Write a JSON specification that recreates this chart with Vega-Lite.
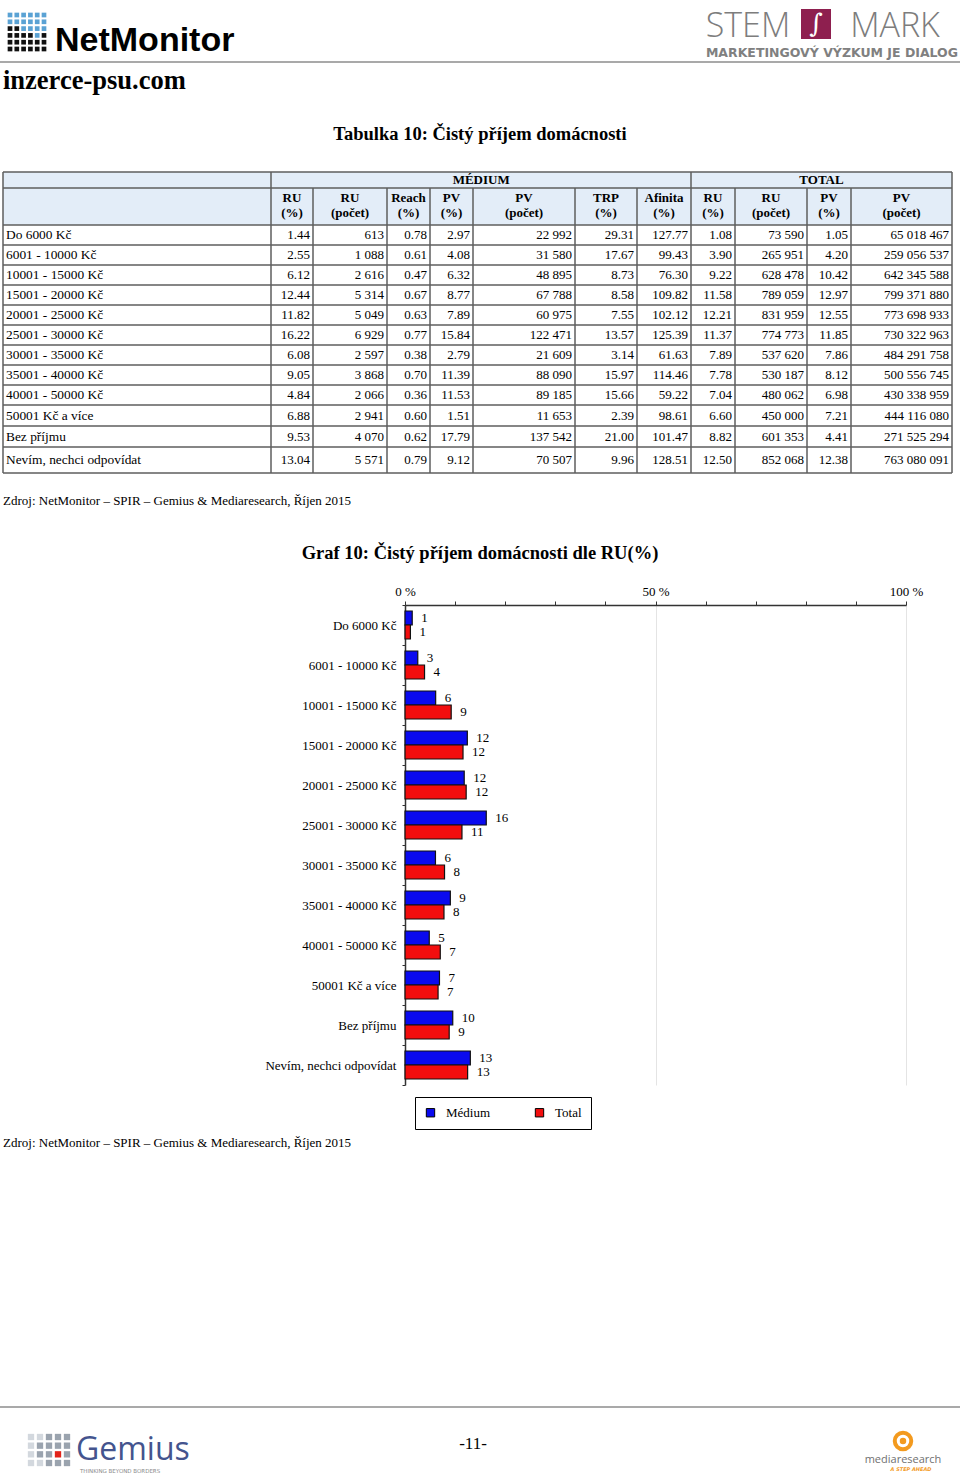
{
  "$schema": "https://vega.github.io/schema/vega-lite/v6.json",
  "width": 960,
  "height": 1478,
  "autosize": "none",
  "padding": 0,
  "background": "white",
  "config": {
    "view": {"stroke": null},
    "text": {"font": "Liberation Serif", "fontSize": 13, "color": "black"}
  },
  "datasets": {
    "income": [
      {"cat": "Do 6000 Kč", "m_ru": 1.44, "m_run": 613, "m_reach": 0.78, "m_pv": 2.97, "m_pvn": 22992, "m_trp": 29.31, "m_afi": 127.77, "t_ru": 1.08, "t_run": 73590, "t_pv": 1.05, "t_pvn": 65018467},
      {"cat": "6001 - 10000 Kč", "m_ru": 2.55, "m_run": 1088, "m_reach": 0.61, "m_pv": 4.08, "m_pvn": 31580, "m_trp": 17.67, "m_afi": 99.43, "t_ru": 3.90, "t_run": 265951, "t_pv": 4.20, "t_pvn": 259056537},
      {"cat": "10001 - 15000 Kč", "m_ru": 6.12, "m_run": 2616, "m_reach": 0.47, "m_pv": 6.32, "m_pvn": 48895, "m_trp": 8.73, "m_afi": 76.30, "t_ru": 9.22, "t_run": 628478, "t_pv": 10.42, "t_pvn": 642345588},
      {"cat": "15001 - 20000 Kč", "m_ru": 12.44, "m_run": 5314, "m_reach": 0.67, "m_pv": 8.77, "m_pvn": 67788, "m_trp": 8.58, "m_afi": 109.82, "t_ru": 11.58, "t_run": 789059, "t_pv": 12.97, "t_pvn": 799371880},
      {"cat": "20001 - 25000 Kč", "m_ru": 11.82, "m_run": 5049, "m_reach": 0.63, "m_pv": 7.89, "m_pvn": 60975, "m_trp": 7.55, "m_afi": 102.12, "t_ru": 12.21, "t_run": 831959, "t_pv": 12.55, "t_pvn": 773698933},
      {"cat": "25001 - 30000 Kč", "m_ru": 16.22, "m_run": 6929, "m_reach": 0.77, "m_pv": 15.84, "m_pvn": 122471, "m_trp": 13.57, "m_afi": 125.39, "t_ru": 11.37, "t_run": 774773, "t_pv": 11.85, "t_pvn": 730322963},
      {"cat": "30001 - 35000 Kč", "m_ru": 6.08, "m_run": 2597, "m_reach": 0.38, "m_pv": 2.79, "m_pvn": 21609, "m_trp": 3.14, "m_afi": 61.63, "t_ru": 7.89, "t_run": 537620, "t_pv": 7.86, "t_pvn": 484291758},
      {"cat": "35001 - 40000 Kč", "m_ru": 9.05, "m_run": 3868, "m_reach": 0.70, "m_pv": 11.39, "m_pvn": 88090, "m_trp": 15.97, "m_afi": 114.46, "t_ru": 7.78, "t_run": 530187, "t_pv": 8.12, "t_pvn": 500556745},
      {"cat": "40001 - 50000 Kč", "m_ru": 4.84, "m_run": 2066, "m_reach": 0.36, "m_pv": 11.53, "m_pvn": 89185, "m_trp": 15.66, "m_afi": 59.22, "t_ru": 7.04, "t_run": 480062, "t_pv": 6.98, "t_pvn": 430338959},
      {"cat": "50001 Kč a více", "m_ru": 6.88, "m_run": 2941, "m_reach": 0.60, "m_pv": 1.51, "m_pvn": 11653, "m_trp": 2.39, "m_afi": 98.61, "t_ru": 6.60, "t_run": 450000, "t_pv": 7.21, "t_pvn": 444116080},
      {"cat": "Bez příjmu", "m_ru": 9.53, "m_run": 4070, "m_reach": 0.62, "m_pv": 17.79, "m_pvn": 137542, "m_trp": 21.00, "m_afi": 101.47, "t_ru": 8.82, "t_run": 601353, "t_pv": 4.41, "t_pvn": 271525294},
      {"cat": "Nevím, nechci odpovídat", "m_ru": 13.04, "m_run": 5571, "m_reach": 0.79, "m_pv": 9.12, "m_pvn": 70507, "m_trp": 9.96, "m_afi": 128.51, "t_ru": 12.50, "t_run": 852068, "t_pv": 12.38, "t_pvn": 763080091}
    ],
    "headers": [
      {"c": 1, "l1": "RU", "l2": "(%)"},
      {"c": 2, "l1": "RU", "l2": "(počet)"},
      {"c": 3, "l1": "Reach", "l2": "(%)"},
      {"c": 4, "l1": "PV", "l2": "(%)"},
      {"c": 5, "l1": "PV", "l2": "(počet)"},
      {"c": 6, "l1": "TRP", "l2": "(%)"},
      {"c": 7, "l1": "Afinita", "l2": "(%)"},
      {"c": 8, "l1": "RU", "l2": "(%)"},
      {"c": 9, "l1": "RU", "l2": "(počet)"},
      {"c": 10, "l1": "PV", "l2": "(%)"},
      {"c": 11, "l1": "PV", "l2": "(počet)"}
    ],
    "hlines": [{"b": 0}, {"b": 1}, {"b": 2}, {"b": 3}, {"b": 4}, {"b": 5}, {"b": 6}, {"b": 7}, {"b": 8}, {"b": 9}, {"b": 10}, {"b": 11}, {"b": 12}, {"b": 13}, {"b": 14}],
    "vfull": [{"b": 0}, {"b": 1}, {"b": 8}, {"b": 12}],
    "vpart": [{"b": 2}, {"b": 3}, {"b": 4}, {"b": 5}, {"b": 6}, {"b": 7}, {"b": 9}, {"b": 10}, {"b": 11}],
    "netgrid": [
      {"gx": 0, "gy": 0, "tone": "b"}, {"gx": 1, "gy": 0, "tone": "b"}, {"gx": 2, "gy": 0, "tone": "b"}, {"gx": 3, "gy": 0, "tone": "b"}, {"gx": 4, "gy": 0, "tone": "b"}, {"gx": 5, "gy": 0, "tone": "b"},
      {"gx": 0, "gy": 1, "tone": "b"}, {"gx": 1, "gy": 1, "tone": "b"}, {"gx": 2, "gy": 1, "tone": "b"}, {"gx": 3, "gy": 1, "tone": "b"}, {"gx": 4, "gy": 1, "tone": "b"}, {"gx": 5, "gy": 1, "tone": "b"},
      {"gx": 0, "gy": 2, "tone": "k"}, {"gx": 1, "gy": 2, "tone": "k"}, {"gx": 2, "gy": 2, "tone": "b"}, {"gx": 3, "gy": 2, "tone": "b"}, {"gx": 4, "gy": 2, "tone": "b"}, {"gx": 5, "gy": 2, "tone": "b"},
      {"gx": 0, "gy": 3, "tone": "k"}, {"gx": 1, "gy": 3, "tone": "k"}, {"gx": 2, "gy": 3, "tone": "k"}, {"gx": 3, "gy": 3, "tone": "k"}, {"gx": 4, "gy": 3, "tone": "b"}, {"gx": 5, "gy": 3, "tone": "k"},
      {"gx": 0, "gy": 4, "tone": "k"}, {"gx": 1, "gy": 4, "tone": "k"}, {"gx": 2, "gy": 4, "tone": "k"}, {"gx": 3, "gy": 4, "tone": "k"}, {"gx": 4, "gy": 4, "tone": "k"}, {"gx": 5, "gy": 4, "tone": "k"},
      {"gx": 0, "gy": 5, "tone": "k"}, {"gx": 1, "gy": 5, "tone": "k"}, {"gx": 2, "gy": 5, "tone": "k"}, {"gx": 3, "gy": 5, "tone": "k"}, {"gx": 4, "gy": 5, "tone": "k"}, {"gx": 5, "gy": 5, "tone": "k"}
    ],
    "gemgrid": [
      {"gx": 0, "gy": 0, "tone": "l"}, {"gx": 1, "gy": 0, "tone": "l"}, {"gx": 2, "gy": 0, "tone": "m"}, {"gx": 3, "gy": 0, "tone": "m"}, {"gx": 4, "gy": 0, "tone": "m"},
      {"gx": 0, "gy": 1, "tone": "l"}, {"gx": 1, "gy": 1, "tone": "m"}, {"gx": 2, "gy": 1, "tone": "m"}, {"gx": 3, "gy": 1, "tone": "m"}, {"gx": 4, "gy": 1, "tone": "m"},
      {"gx": 0, "gy": 2, "tone": "l"}, {"gx": 1, "gy": 2, "tone": "m"}, {"gx": 2, "gy": 2, "tone": "m"}, {"gx": 3, "gy": 2, "tone": "r"}, {"gx": 4, "gy": 2, "tone": "m"},
      {"gx": 0, "gy": 3, "tone": "l"}, {"gx": 1, "gy": 3, "tone": "l"}, {"gx": 2, "gy": 3, "tone": "m"}, {"gx": 3, "gy": 3, "tone": "m"}, {"gx": 4, "gy": 3, "tone": "m"}
    ]
  },
  "layer": [
    {
      "layer": [
        {
          "data": {"values": [{"k": 1}]},
          "mark": {"type": "rect", "fill": "#e3edf8"},
          "encoding": {
            "x": {"datum": 0, "type": "quantitative", "scale": {"domain": [0, 1, 2, 3, 4, 5, 6, 7, 8, 9, 10, 11, 12], "range": [3, 271, 313, 387, 430, 473, 575, 637, 691, 735, 807, 851, 952], "nice": false, "zero": false}, "axis": null},
            "x2": {"datum": 12},
            "y": {"datum": 0, "type": "quantitative", "scale": {"domain": [0, 1, 2, 3, 4, 5, 6, 7, 8, 9, 10, 11, 12, 13, 14], "range": [172, 188, 225, 245, 265, 285, 305, 325, 345, 365, 385, 405, 426, 447, 473], "nice": false, "zero": false}, "axis": null},
            "y2": {"datum": 2}
          }
        },
        {
          "data": {"name": "hlines"},
          "mark": {"type": "rule", "color": "#5e5e5e", "strokeWidth": 1.5},
          "encoding": {
            "x": {"datum": 0, "type": "quantitative", "axis": null},
            "x2": {"datum": 12},
            "y": {"field": "b", "type": "quantitative", "axis": null}
          }
        },
        {
          "data": {"name": "vfull"},
          "mark": {"type": "rule", "color": "#5e5e5e", "strokeWidth": 1.5},
          "encoding": {
            "x": {"field": "b", "type": "quantitative", "axis": null},
            "y": {"datum": 0, "type": "quantitative", "axis": null},
            "y2": {"datum": 14}
          }
        },
        {
          "data": {"name": "vpart"},
          "mark": {"type": "rule", "color": "#5e5e5e", "strokeWidth": 1.5},
          "encoding": {
            "x": {"field": "b", "type": "quantitative", "axis": null},
            "y": {"datum": 1, "type": "quantitative", "axis": null},
            "y2": {"datum": 14}
          }
        },
        {
          "data": {"values": [{"t": "MÉDIUM"}]},
          "mark": {"type": "text", "fontWeight": "bold", "align": "center", "baseline": "middle"},
          "encoding": {
            "x": {"datum": 5.08, "type": "quantitative", "axis": null},
            "y": {"datum": 0.5, "type": "quantitative", "axis": null},
            "text": {"field": "t"}
          }
        },
        {
          "data": {"values": [{"t": "TOTAL"}]},
          "mark": {"type": "text", "fontWeight": "bold", "align": "center", "baseline": "middle"},
          "encoding": {
            "x": {"datum": 10.33, "type": "quantitative", "axis": null},
            "y": {"datum": 0.5, "type": "quantitative", "axis": null},
            "text": {"field": "t"}
          }
        },
        {
          "data": {"name": "headers"},
          "transform": [{"calculate": "datum.c + 0.5", "as": "cx"}],
          "mark": {"type": "text", "fontWeight": "bold", "align": "center", "baseline": "middle"},
          "encoding": {
            "x": {"field": "cx", "type": "quantitative", "axis": null},
            "y": {"datum": 1.27, "type": "quantitative", "axis": null},
            "text": {"field": "l1"}
          }
        },
        {
          "data": {"name": "headers"},
          "transform": [{"calculate": "datum.c + 0.5", "as": "cx"}],
          "mark": {"type": "text", "fontWeight": "bold", "align": "center", "baseline": "middle"},
          "encoding": {
            "x": {"field": "cx", "type": "quantitative", "axis": null},
            "y": {"datum": 1.68, "type": "quantitative", "axis": null},
            "text": {"field": "l2"}
          }
        },
        {
          "data": {"name": "income"},
          "transform": [
            {"window": [{"op": "row_number", "as": "ri"}]},
            {"calculate": "datum.ri + 1.5", "as": "rc"}
          ],
          "mark": {"type": "text", "align": "left", "dx": 3, "baseline": "middle", "fontSize": 13.4},
          "encoding": {
            "x": {"datum": 0, "type": "quantitative", "axis": null},
            "y": {"field": "rc", "type": "quantitative", "axis": null},
            "text": {"field": "cat"}
          }
        },
        {
          "data": {"name": "income"},
          "transform": [
            {"window": [{"op": "row_number", "as": "ri"}]},
            {"fold": ["m_ru", "m_run", "m_reach", "m_pv", "m_pvn", "m_trp", "m_afi", "t_ru", "t_run", "t_pv", "t_pvn"], "as": ["key", "val"]},
            {"calculate": "indexof(['m_ru','m_run','m_reach','m_pv','m_pvn','m_trp','m_afi','t_ru','t_run','t_pv','t_pvn'], datum.key) + 2", "as": "rb"},
            {"calculate": "datum.ri + 1.5", "as": "rc"},
            {"calculate": "indexof(['m_run','m_pvn','t_run','t_pvn'], datum.key) >= 0 ? replace(format(datum.val, ',d'), regexp(',', 'g'), ' ') : format(datum.val, '.2f')", "as": "txt"}
          ],
          "mark": {"type": "text", "align": "right", "dx": -3, "baseline": "middle"},
          "encoding": {
            "x": {"field": "rb", "type": "quantitative", "axis": null},
            "y": {"field": "rc", "type": "quantitative", "axis": null},
            "text": {"field": "txt"}
          }
        }
      ]
    },
    {
      "data": {"name": "income"},
      "transform": [
        {"fold": ["m_ru", "t_ru"], "as": ["k", "v"]},
        {"calculate": "datum.k === 'm_ru' ? 'Médium' : 'Total'", "as": "series"}
      ],
      "layer": [
        {
          "mark": {"type": "bar", "stroke": "#111111", "strokeWidth": 1.2},
          "encoding": {
            "x": {
              "field": "v", "type": "quantitative",
              "scale": {"domain": [0, 100], "range": [405, 906], "nice": false, "zero": true},
              "axis": {
                "orient": "top", "offset": -605, "title": null,
                "values": [0, 10, 20, 30, 40, 50, 60, 70, 80, 90, 100],
                "labelExpr": "datum.value % 50 === 0 ? datum.value + ' %' : ''",
                "labelFlush": false, "labelOverlap": false,
                "labelFont": "Liberation Serif", "labelFontSize": 13, "labelColor": "black", "labelPadding": 3,
                "tickSize": 4, "tickColor": "#333333", "domainColor": "#333333", "domainWidth": 1.5,
                "grid": true, "gridColor": "#e4e4e4",
                "gridOpacity": {"condition": {"test": "datum.value === 50 || datum.value === 100", "value": 1}, "value": 0}
              }
            },
            "y": {
              "field": "cat", "type": "nominal", "sort": null,
              "scale": {"domain": ["Do 6000 Kč", "6001 - 10000 Kč", "10001 - 15000 Kč", "15001 - 20000 Kč", "20001 - 25000 Kč", "25001 - 30000 Kč", "30001 - 35000 Kč", "35001 - 40000 Kč", "40001 - 50000 Kč", "50001 Kč a více", "Bez příjmu", "Nevím, nechci odpovídat"], "range": [605, 1085], "paddingInner": 0, "paddingOuter": 0},
              "axis": {
                "orient": "left", "offset": -405, "title": null,
                "labelFont": "Liberation Serif", "labelFontSize": 13, "labelColor": "black", "labelPadding": 6, "labelLimit": 400,
                "tickSize": 3, "tickBand": "extent", "tickColor": "#333333", "domainColor": "#333333", "domainWidth": 1.5, "grid": false
              }
            },
            "yOffset": {"field": "series", "type": "nominal", "scale": {"domain": ["Médium", "Total"], "paddingInner": 0, "paddingOuter": 0.4286}},
            "color": {
              "field": "series", "type": "nominal",
              "scale": {"domain": ["Médium", "Total"], "range": ["#0a0aef", "#f20d0d"]},
              "legend": {
                "orient": "none", "legendX": 415, "legendY": 1097, "direction": "horizontal", "title": null,
                "strokeColor": "black", "fillColor": "white", "padding": 9,
                "symbolType": "square", "symbolSize": 70, "symbolStrokeColor": "black", "symbolStrokeWidth": 1, "symbolOpacity": 1,
                "labelFont": "Liberation Serif", "labelFontSize": 13, "labelColor": "black", "labelOffset": 9, "columnPadding": 42
              }
            }
          }
        },
        {
          "mark": {"type": "text", "align": "left", "dx": 9, "baseline": "middle", "fontSize": 13},
          "encoding": {
            "x": {"field": "v", "type": "quantitative"},
            "y": {"field": "cat", "type": "nominal", "sort": null},
            "yOffset": {"field": "series", "type": "nominal"},
            "text": {"field": "v", "type": "quantitative", "format": ".0f"}
          }
        }
      ]
    },
    {
      "layer": [
        {
          "data": {"values": [{"k": 1}]},
          "mark": {"type": "rule", "color": "#8c8c8c", "strokeWidth": 1.5},
          "encoding": {"y": {"datum": 62, "type": "quantitative", "scale": {"domain": [0, 1478], "range": [0, 1478], "nice": false, "zero": false}, "axis": null}}
        },
        {
          "data": {"values": [{"k": 1}]},
          "mark": {"type": "rule", "color": "#8c8c8c", "strokeWidth": 1.5},
          "encoding": {"y": {"datum": 1407, "type": "quantitative", "axis": null}}
        },
        {
          "data": {"values": [{"t": "NetMonitor"}]},
          "mark": {"type": "text", "font": "Liberation Sans", "fontWeight": "bold", "fontSize": 34, "align": "left", "baseline": "alphabetic"},
          "encoding": {
            "x": {"datum": 55, "type": "quantitative", "scale": {"domain": [0, 960], "range": [0, 960], "nice": false, "zero": false}, "axis": null},
            "y": {"datum": 51, "type": "quantitative", "axis": null},
            "text": {"field": "t"}
          }
        },
        {
          "data": {"values": [{"t": "inzerce-psu.com"}]},
          "mark": {"type": "text", "fontSize": 26.5, "fontWeight": "bold", "align": "left", "baseline": "alphabetic"},
          "encoding": {
            "x": {"datum": 3, "type": "quantitative", "axis": null},
            "y": {"datum": 89, "type": "quantitative", "axis": null},
            "text": {"field": "t"}
          }
        },
        {
          "data": {"values": [{"t": "STEM"}]},
          "mark": {"type": "text", "font": "Open Sans", "fontWeight": 300, "fontSize": 34, "color": "#7d7d7d", "align": "center", "baseline": "alphabetic"},
          "encoding": {
            "x": {"datum": 748, "type": "quantitative", "axis": null},
            "y": {"datum": 37, "type": "quantitative", "axis": null},
            "text": {"field": "t"}
          }
        },
        {
          "data": {"values": [{"t": "MARK"}]},
          "mark": {"type": "text", "font": "Open Sans", "fontWeight": 300, "fontSize": 34, "color": "#7d7d7d", "align": "center", "baseline": "alphabetic"},
          "encoding": {
            "x": {"datum": 895, "type": "quantitative", "axis": null},
            "y": {"datum": 37, "type": "quantitative", "axis": null},
            "text": {"field": "t"}
          }
        },
        {
          "data": {"values": [{"k": 1}]},
          "mark": {"type": "point", "shape": "square", "size": 900, "filled": true, "color": "#8e1f4f", "opacity": 1},
          "encoding": {
            "x": {"datum": 816, "type": "quantitative", "axis": null},
            "y": {"datum": 24, "type": "quantitative", "axis": null}
          }
        },
        {
          "data": {"values": [{"t": "∫"}]},
          "mark": {"type": "text", "font": "DejaVu Serif", "fontSize": 26, "color": "white", "align": "center", "baseline": "middle"},
          "encoding": {
            "x": {"datum": 816, "type": "quantitative", "axis": null},
            "y": {"datum": 24, "type": "quantitative", "axis": null},
            "text": {"field": "t"}
          }
        },
        {
          "data": {"values": [{"t": "MARKETINGOVÝ VÝZKUM JE DIALOG"}]},
          "mark": {"type": "text", "font": "DejaVu Sans", "fontWeight": "bold", "fontSize": 12.5, "color": "#808080", "align": "right", "baseline": "alphabetic"},
          "encoding": {
            "x": {"datum": 958, "type": "quantitative", "axis": null},
            "y": {"datum": 57, "type": "quantitative", "axis": null},
            "text": {"field": "t"}
          }
        },
        {
          "data": {"values": [{"t": "Tabulka 10: Čistý příjem domácnosti"}]},
          "mark": {"type": "text", "fontWeight": "bold", "fontSize": 18.5, "align": "center", "baseline": "alphabetic"},
          "encoding": {
            "x": {"datum": 480, "type": "quantitative", "axis": null},
            "y": {"datum": 140, "type": "quantitative", "axis": null},
            "text": {"field": "t"}
          }
        },
        {
          "data": {"values": [{"t": "Zdroj: NetMonitor – SPIR – Gemius & Mediaresearch, Říjen 2015"}]},
          "mark": {"type": "text", "fontSize": 13, "align": "left", "baseline": "alphabetic"},
          "encoding": {
            "x": {"datum": 3, "type": "quantitative", "axis": null},
            "y": {"datum": 505, "type": "quantitative", "axis": null},
            "text": {"field": "t"}
          }
        },
        {
          "data": {"values": [{"t": "Graf 10: Čistý příjem domácnosti dle RU(%)"}]},
          "mark": {"type": "text", "fontWeight": "bold", "fontSize": 18.5, "align": "center", "baseline": "alphabetic"},
          "encoding": {
            "x": {"datum": 480, "type": "quantitative", "axis": null},
            "y": {"datum": 559, "type": "quantitative", "axis": null},
            "text": {"field": "t"}
          }
        },
        {
          "data": {"values": [{"t": "Zdroj: NetMonitor – SPIR – Gemius & Mediaresearch, Říjen 2015"}]},
          "mark": {"type": "text", "fontSize": 13, "align": "left", "baseline": "alphabetic"},
          "encoding": {
            "x": {"datum": 3, "type": "quantitative", "axis": null},
            "y": {"datum": 1147, "type": "quantitative", "axis": null},
            "text": {"field": "t"}
          }
        },
        {
          "data": {"values": [{"t": "-11-"}]},
          "mark": {"type": "text", "fontSize": 17, "align": "center", "baseline": "alphabetic"},
          "encoding": {
            "x": {"datum": 473, "type": "quantitative", "axis": null},
            "y": {"datum": 1449, "type": "quantitative", "axis": null},
            "text": {"field": "t"}
          }
        },
        {
          "data": {"values": [{"t": "Gemius"}]},
          "mark": {"type": "text", "font": "Open Sans", "fontSize": 32, "color": "#44548e", "align": "left", "baseline": "alphabetic"},
          "encoding": {
            "x": {"datum": 76, "type": "quantitative", "axis": null},
            "y": {"datum": 1460, "type": "quantitative", "axis": null},
            "text": {"field": "t"}
          }
        },
        {
          "data": {"values": [{"t": "THINKING  BEYOND  BORDERS"}]},
          "mark": {"type": "text", "font": "DejaVu Sans", "fontSize": 5.5, "color": "#8a8a8a", "align": "left", "baseline": "alphabetic"},
          "encoding": {
            "x": {"datum": 80, "type": "quantitative", "axis": null},
            "y": {"datum": 1473, "type": "quantitative", "axis": null},
            "text": {"field": "t"}
          }
        },
        {
          "data": {"values": [{"k": 1}]},
          "mark": {"type": "point", "shape": "circle", "size": 420, "filled": true, "color": "#f39a1e", "opacity": 1},
          "encoding": {
            "x": {"datum": 903, "type": "quantitative", "axis": null},
            "y": {"datum": 1441, "type": "quantitative", "axis": null}
          }
        },
        {
          "data": {"values": [{"k": 1}]},
          "mark": {"type": "point", "shape": "circle", "size": 90, "filled": false, "stroke": "white", "strokeWidth": 3, "opacity": 1},
          "encoding": {
            "x": {"datum": 903, "type": "quantitative", "axis": null},
            "y": {"datum": 1441, "type": "quantitative", "axis": null}
          }
        },
        {
          "data": {"values": [{"t": "mediaresearch"}]},
          "mark": {"type": "text", "font": "Open Sans", "fontSize": 11, "color": "#707070", "align": "center", "baseline": "alphabetic"},
          "encoding": {
            "x": {"datum": 903, "type": "quantitative", "axis": null},
            "y": {"datum": 1463, "type": "quantitative", "axis": null},
            "text": {"field": "t"}
          }
        },
        {
          "data": {"values": [{"t": "A STEP AHEAD"}]},
          "mark": {"type": "text", "font": "DejaVu Sans", "fontWeight": "bold", "fontStyle": "italic", "fontSize": 5, "color": "#f39a1e", "align": "center", "baseline": "alphabetic"},
          "encoding": {
            "x": {"datum": 911, "type": "quantitative", "axis": null},
            "y": {"datum": 1471, "type": "quantitative", "axis": null},
            "text": {"field": "t"}
          }
        }
      ]
    },
    {
      "data": {"name": "netgrid"},
      "mark": {"type": "point", "shape": "square", "filled": true, "size": 22, "opacity": 1},
      "encoding": {
        "x": {"field": "gx", "type": "quantitative", "scale": {"domain": [0, 5], "range": [10, 44], "nice": false, "zero": false}, "axis": null},
        "y": {"field": "gy", "type": "quantitative", "scale": {"domain": [0, 5], "range": [15, 49], "nice": false, "zero": false}, "axis": null},
        "color": {"field": "tone", "type": "nominal", "scale": {"domain": ["b", "k"], "range": ["#5aa2d4", "#111111"]}, "legend": null}
      }
    },
    {
      "data": {"name": "gemgrid"},
      "mark": {"type": "point", "shape": "square", "filled": true, "size": 40, "opacity": 1},
      "encoding": {
        "x": {"field": "gx", "type": "quantitative", "scale": {"domain": [0, 4], "range": [31, 67], "nice": false, "zero": false}, "axis": null},
        "y": {"field": "gy", "type": "quantitative", "scale": {"domain": [0, 3], "range": [1437, 1463], "nice": false, "zero": false}, "axis": null},
        "color": {"field": "tone", "type": "nominal", "scale": {"domain": ["l", "m", "r"], "range": ["#d3d8de", "#9aa3ae", "#e2231a"]}, "legend": null}
      }
    }
  ],
  "resolve": {
    "scale": {"x": "independent", "y": "independent", "color": "independent"},
    "axis": {"x": "independent", "y": "independent"},
    "legend": {"color": "independent"}
  }
}
